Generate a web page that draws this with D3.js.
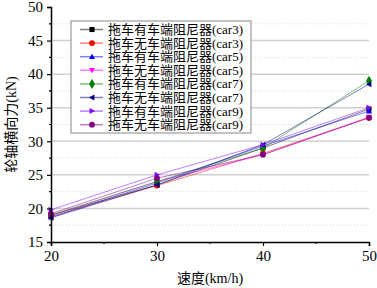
<!DOCTYPE html>
<html>
<head>
<meta charset="utf-8">
<script src="https://cdn.jsdelivr.net/npm/d3@7"></script>
<style>
  body { margin: 0; background: #fff; }
  text { font-family: "Liberation Serif", "Noto Sans CJK SC", serif; fill: #000; }
</style>
</head>
<body>
<svg id="chart"></svg>
<script>
/* Data */
const speeds = [20, 30, 40, 50];
const seriesNames = [
    "拖车有车端阻尼器(car3)", "拖车无车端阻尼器(car3)",
    "拖车有车端阻尼器(car5)", "拖车无车端阻尼器(car5)",
    "拖车有车端阻尼器(car7)", "拖车无车端阻尼器(car7)",
    "拖车有车端阻尼器(car9)", "拖车无车端阻尼器(car9)"
];
const car3With = [19.0, 23.5, 29.0, 34.8];
const car3Without = [18.8, 23.4, 28.2, 33.5];
const car5With = [18.7, 23.8, 29.3, 34.5];
const car5Without = [19.0, 24.0, 28.0, 33.6];
const car7With = [19.0, 24.0, 29.0, 39.0];
const car7Without = [18.6, 23.5, 29.5, 38.5];
const car9With = [19.8, 25.0, 29.5, 35.0];
const car9Without = [19.2, 24.5, 28.0, 33.5];
const yTicks = [15, 20, 25, 30, 35, 40, 45, 50];
const xTicks = [20, 30, 40, 50];

const allValues = [car3With, car3Without, car5With, car5Without, car7With, car7Without, car9With, car9Without];

/* Styles */
const colors = ["#000000", "#ff0000", "#0000ff", "#ff00ff", "#008000", "#000080", "#8000ff", "#800080"];
const symbols = [d3.symbolSquare, d3.symbolCircle, "up", "down", d3.symbolDiamond, "left", "right", d3.symbolCircle];

const W = 377, H = 288;
const margin = { top: 7, right: 8, bottom: 46, left: 51 };
const width = W - margin.left - margin.right;
const height = H - margin.top - margin.bottom;

const svg = d3.select("#chart").attr("width", W).attr("height", H);
const g = svg.append("g").attr("transform", `translate(${margin.left},${margin.top})`);

const x = d3.scaleLinear().domain([20, 50]).range([0, width]);
const y = d3.scaleLinear().domain([15, 50]).range([height, 0]);

/* Grid lines */
const minorY = d3.range(17.5, 50, 5);
g.selectAll(".gmin").data(minorY).join("line")
    .attr("x1", 0).attr("x2", width)
    .attr("y1", d => y(d)).attr("y2", d => y(d))
    .attr("stroke", "#d8d8d8").attr("stroke-width", 1).attr("stroke-dasharray", "1,2");
g.selectAll(".gmaj").data(yTicks.filter(d => d > 15 && d < 50)).join("line")
    .attr("x1", 0).attr("x2", width)
    .attr("y1", d => y(d)).attr("y2", d => y(d))
    .attr("stroke", "#d0d0d0").attr("stroke-width", 1.5);

/* Triangle symbol helper */
function markerPath(sym, s) {
    if (sym === "up") return `M0,${-s}L${s},${s * 0.8}L${-s},${s * 0.8}Z`;
    if (sym === "down") return `M0,${s}L${s},${-s * 0.8}L${-s},${-s * 0.8}Z`;
    if (sym === "left") return `M${-s},0L${s * 0.8},${-s}L${s * 0.8},${s}Z`;
    if (sym === "right") return `M${s},0L${-s * 0.8},${-s}L${-s * 0.8},${s}Z`;
    return d3.symbol(sym, sym === d3.symbolDiamond ? 30 : 26)();
}

/* Lines and points */
const line = d3.line().x((d, i) => x(speeds[i])).y(d => y(d));
allValues.forEach((vals, k) => {
    g.append("path")
        .attr("d", line(vals))
        .attr("fill", "none")
        .attr("stroke", colors[k])
        .attr("stroke-opacity", 0.5)
        .attr("stroke-width", 1);
});
allValues.forEach((vals, k) => {
    g.selectAll(null).data(vals).join("path")
        .attr("transform", (d, i) => `translate(${x(speeds[i])},${y(d)})`)
        .attr("d", markerPath(symbols[k], 3))
        .attr("fill", colors[k]);
});

/* Axes */
const yAxis = g.append("g").call(d3.axisLeft(y).tickValues(yTicks).tickSize(4).tickPadding(4));
yAxis.selectAll(".tick text").style("font-size", "15px");
g.append("g").selectAll("line").data(minorY).join("line")
    .attr("x1", -2).attr("x2", 0).attr("y1", d => y(d)).attr("y2", d => y(d))
    .attr("stroke", "#000").attr("stroke-width", 1.2);

const xAxis = g.append("g").attr("transform", `translate(0,${height})`)
    .call(d3.axisBottom(x).tickValues(xTicks).tickSize(4).tickPadding(4));
xAxis.selectAll(".tick text").style("font-size", "15px");
g.append("g").selectAll("line").data([25, 35, 45]).join("line")
    .attr("x1", d => x(d)).attr("x2", d => x(d)).attr("y1", height).attr("y2", height + 2)
    .attr("stroke", "#000").attr("stroke-width", 1.2);

[yAxis, xAxis].forEach(a => {
    a.select(".domain").attr("stroke-width", 1.5);
    a.selectAll(".tick line").attr("stroke-width", 1.2);
    a.selectAll(".tick text").style("font-family", "'Liberation Serif', serif");
});

/* Axis titles */
svg.append("text")
    .attr("transform", `translate(16,${margin.top + height / 2}) rotate(-90)`)
    .attr("text-anchor", "middle")
    .style("font-size", "14px")
    .text("轮轴横向力(kN)");
svg.append("text")
    .attr("x", 210).attr("y", 283)
    .attr("text-anchor", "middle")
    .style("font-size", "14px")
    .text("速度(km/h)");

/* Legend */
const leg = svg.append("g").attr("transform", "translate(71,21)");
leg.append("rect")
    .attr("width", 180).attr("height", 112)
    .attr("fill", "#fff").attr("stroke", "#888").attr("stroke-width", 1);
seriesNames.forEach((name, k) => {
    const ry = 8.5 + k * 13.6;
    leg.append("line")
        .attr("x1", 9).attr("x2", 32).attr("y1", ry).attr("y2", ry)
        .attr("stroke", colors[k]).attr("stroke-opacity", 0.5).attr("stroke-width", 1.5);
    leg.append("path")
        .attr("transform", `translate(21,${ry})`)
        .attr("d", markerPath(symbols[k], 3))
        .attr("fill", colors[k]);
    leg.append("text")
        .attr("x", 37).attr("y", ry + 4.5)
        .style("font-size", "13px")
        .text(name);
});
</script>
</body>
</html>
